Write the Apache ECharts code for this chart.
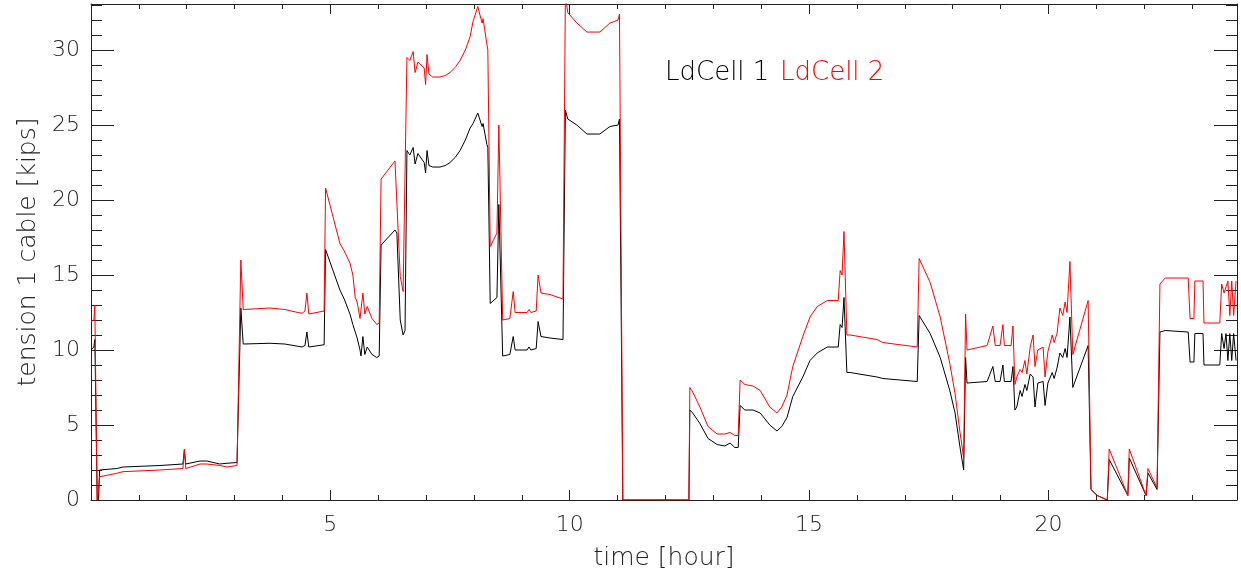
<!DOCTYPE html>
<html>
<head>
<meta charset="utf-8">
<script src="https://cdn.jsdelivr.net/npm/echarts@6/dist/echarts.min.js"></script>
<style>
html,body{margin:0;padding:0;background:#fff;}
#chart{width:1241px;height:581px;}
</style>
</head>
<body>
<div id="chart"></div>
<script>
// time in hours
var timeHours = [
  0.00,0.06,0.08,0.13,0.15,0.18,0.54,0.67,1.44,1.92,1.95,1.98,2.28,2.42,2.69,2.84,3.05,
  3.13,3.18,3.74,4.05,4.32,4.41,4.47,4.51,4.55,4.87,
  4.90,5.20,5.29,5.41,5.47,5.52,5.56,5.62,5.64,5.68,5.72,5.77,5.87,5.97,6.02,
  6.06,6.35,6.39,6.46,6.52,6.56,
  6.60,6.66,6.73,6.77,6.83,6.96,6.99,7.02,7.06,7.14,7.29,7.40,7.50,7.61,7.71,7.82,7.92,7.98,8.08,8.12,8.17,8.19,8.27,8.29,
  8.34,8.48,8.52,8.60,8.75,8.82,8.86,9.11,9.15,9.19,9.30,9.34,9.40,9.59,9.86,
  9.91,9.96,10.15,10.36,10.63,10.84,11.01,11.04,11.11,12.49,
  12.51,12.57,12.72,12.89,13.08,13.24,13.35,13.45,13.52,13.56,13.66,13.83,13.98,14.18,14.33,14.43,14.54,14.66,14.87,15.02,15.17,15.38,15.61,15.65,15.69,15.73,15.79,15.86,16.42,16.54,17.26,
  17.30,17.53,17.74,17.94,18.05,18.15,18.23,18.27,18.30,18.72,18.84,18.89,18.99,19.05,19.08,19.22,19.26,19.30,19.34,19.41,19.45,19.51,19.55,19.62,19.68,19.72,19.78,19.89,19.93,19.99,20.08,20.12,20.18,20.24,20.30,20.35,20.39,20.45,20.51,20.83,
  20.89,21.02,21.23,21.27,21.66,21.69,22.04,22.08,22.27,22.33,22.44,22.92,22.96,23.04,23.06,23.23,23.25,23.58,23.62,23.67,23.71,23.75,23.79,23.83,23.87,23.92
];
// LdCell 1 tension [kips]
var ldCell1 = [
  10.0,10.2,10.7,0.0,-0.3,2.0,2.1,2.2,2.3,2.4,3.3,2.4,2.6,2.6,2.4,2.45,2.5,
  12.8,10.4,10.45,10.4,10.25,10.2,10.3,11.2,10.2,10.35,
  16.7,14.0,13.4,12.4,11.7,11.2,10.8,10.0,9.6,10.9,9.7,10.2,9.7,9.5,9.6,
  17.0,18.0,17.8,12.0,11.0,11.3,
  23.3,23.0,23.5,22.4,23.1,22.5,21.8,23.3,22.3,22.2,22.2,22.3,22.5,22.85,23.3,24.0,24.8,25.1,25.8,25.8,24.9,25.1,23.7,23.5,
  13.1,13.5,19.7,9.6,9.7,10.9,10.0,10.0,10.2,10.0,10.1,11.9,10.9,10.8,10.7,
  26.0,25.4,25.0,24.4,24.4,24.9,25.0,25.4,0,0,
  6.0,5.8,5.1,4.1,3.7,3.6,3.8,3.5,3.5,6.3,6.0,6.0,5.8,5.0,4.6,4.9,5.5,6.9,8.2,9.3,9.8,10.2,10.2,11.7,11.5,13.5,8.5,8.5,8.2,8.1,7.9,
  12.3,11.1,9.5,7.3,5.8,3.6,2.0,9.5,7.8,7.9,8.9,7.9,7.9,9.0,7.9,7.9,8.9,6.0,6.2,7.3,6.9,7.7,7.3,8.4,8.2,6.2,7.8,7.9,6.3,7.8,8.5,8.1,8.8,9.8,9.5,10.1,9.5,12.2,7.5,10.3,
  0.7,0.3,0,2.7,0.3,2.8,0.3,1.8,0.7,11.2,11.3,11.2,9.2,9.2,11.1,11.1,9.0,9.0,11.1,10.1,11.1,9.3,11.1,9.3,11.1,9.3
];
// LdCell 2 tension [kips]
var ldCell2 = [
  11.9,12.0,13.0,-0.5,-0.5,1.55,1.78,1.89,2.0,2.1,3.4,2.1,2.4,2.4,2.3,2.2,2.3,
  16.0,12.7,12.8,12.7,12.5,12.45,12.6,13.8,12.4,12.6,
  20.8,17.1,16.6,15.8,15.0,13.5,13.2,12.1,12.0,13.8,12.4,12.9,12.1,11.7,11.8,
  21.4,22.6,22.5,14.9,13.9,13.9,
  29.5,29.3,29.9,28.5,29.2,28.8,27.7,29.7,28.4,28.2,28.2,28.3,28.5,28.85,29.3,30.0,30.9,31.9,32.9,33.0,31.8,32.1,30.4,30.0,
  16.9,17.8,25.0,12.0,12.1,13.9,12.5,12.5,12.7,12.5,12.6,15.0,13.8,13.7,13.4,
  33.6,32.5,31.8,31.2,31.2,31.8,32.0,32.4,0,0,
  7.5,7.2,6.2,4.9,4.4,4.4,4.5,4.3,4.3,8.0,7.7,7.6,7.3,6.2,5.8,6.2,7.0,8.9,10.9,12.2,12.9,13.3,13.3,15.3,15.0,17.9,11.0,11.0,10.7,10.5,10.2,
  16.1,14.5,12.2,9.1,7.1,4.6,2.8,12.4,10.0,10.3,11.6,10.3,10.3,11.7,10.3,10.3,11.6,7.7,8.2,8.7,8.5,9.3,8.4,10.2,11.0,8.9,10.0,10.2,8.2,9.9,11.0,10.5,11.1,12.8,12.3,13.2,12.5,15.9,9.7,13.3,
  0.7,0.3,0,3.4,0.3,3.4,0.3,2.1,0.8,14.4,14.8,14.8,12.1,12.1,14.6,14.6,11.8,11.8,14.4,13.8,13.8,14.6,12.3,14.6,12.3,14.6
];
var seriesNames = ['LdCell 1', 'LdCell 2'];
var xRange = [0, 23.94];
var yRange = [0, 33.07];

var FONT = '"DejaVu Sans", sans-serif';
var FW = 200;
var TXT = '#222';
var LINE = '#222';

function pairs(vals){ return timeHours.map(function(t,i){ return [t, vals[i]]; }); }

function xAx(pos, interval, len, showLine, showLabel){
  return {
    type:'value', position:pos, min:xRange[0], max:xRange[1], interval:interval,
    axisLine:{show:showLine, onZero:false, lineStyle:{color:LINE, width:1}},
    axisTick:{show:true, inside:true, length:len, lineStyle:{color:LINE, width:1}},
    axisLabel:{show:showLabel, showMinLabel:false, showMaxLabel:false, fontFamily:FONT, fontWeight:FW, fontSize:22, color:TXT, margin:14},
    splitLine:{show:false}
  };
}
function yAx(pos, interval, len, showLine, showLabel){
  return {
    type:'value', position:pos, min:yRange[0], max:yRange[1], interval:interval,
    axisLine:{show:showLine, onZero:false, lineStyle:{color:LINE, width:1}},
    axisTick:{show:true, inside:true, length:len, lineStyle:{color:LINE, width:1}},
    axisLabel:{show:showLabel, showMaxLabel:false, fontFamily:FONT, fontWeight:FW, fontSize:22, color:TXT, margin:11},
    splitLine:{show:false}
  };
}

var xa0 = xAx('bottom', 5, 10, true, true);
xa0.name = 'time [hour]';
xa0.nameLocation = 'middle';
xa0.nameGap = 46;
xa0.nameTextStyle = {fontFamily:FONT, fontWeight:FW, fontSize:25, color:TXT};
var ya0 = yAx('left', 5, 23, true, true);
ya0.name = 'tension 1 cable [kips]';
ya0.nameLocation = 'middle';
ya0.nameGap = 49;
ya0.nameTextStyle = {fontFamily:FONT, fontWeight:FW, fontSize:25, color:TXT};

var chart = echarts.init(document.getElementById('chart'), null, {renderer:'canvas'});
chart.setOption({
  animation:false,
  backgroundColor:'#fff',
  grid:{left:91, right:4, top:4, bottom:81, containLabel:false},
  xAxis:[xa0, xAx('bottom',1,5,false,false), xAx('top',5,10,true,false), xAx('top',1,5,false,false)],
  yAxis:[ya0, yAx('left',1,11,false,false), yAx('right',5,23,true,false), yAx('right',1,11,false,false)],
  graphic:[
    {type:'text', left:665, top:60, style:{text:seriesNames[0], fill:'#000', font:FW + ' 26px ' + FONT}},
    {type:'text', left:780, top:60, style:{text:seriesNames[1], fill:'#ff0000', font:FW + ' 26px ' + FONT}}
  ],
  series:[
    {name:seriesNames[0], type:'line', data:pairs(ldCell1), showSymbol:false, symbol:'none', clip:true,
     lineStyle:{color:'#000', width:1}, itemStyle:{color:'#000'}},
    {name:seriesNames[1], type:'line', data:pairs(ldCell2), showSymbol:false, symbol:'none', clip:true,
     lineStyle:{color:'#ff0000', width:1}, itemStyle:{color:'#ff0000'}}
  ]
});
</script>
</body>
</html>
